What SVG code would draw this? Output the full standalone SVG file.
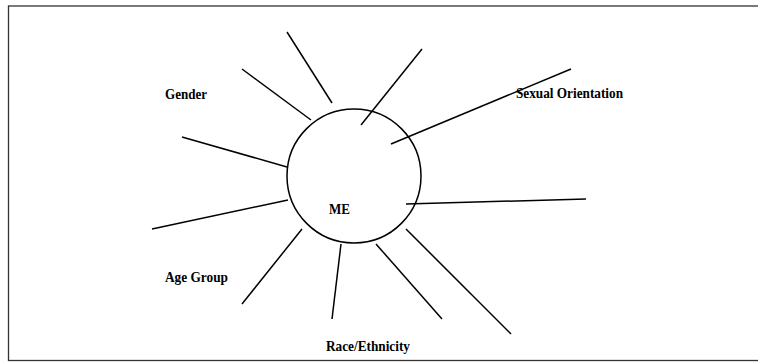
<svg xmlns="http://www.w3.org/2000/svg" width="758" height="363" viewBox="0 0 758 363">
<style>
.lbl{font-family:"Liberation Serif","Times New Roman",serif;font-weight:bold;font-size:14.5px;fill:#000}
.ray{stroke:#000;stroke-width:1.5;fill:none;stroke-linecap:butt}
</style>
<rect x="0" y="0" width="758" height="363" fill="#fff"/>
<rect x="8.5" y="6" width="760" height="354.5" fill="none" stroke="#333" stroke-width="1.3"/>
<g id="me">
<circle cx="354" cy="176" r="67" fill="none" stroke="#000" stroke-width="1.5"/>
<text class="lbl" x="329" y="213.5" textLength="21" lengthAdjust="spacingAndGlyphs">ME</text>
</g>
<g id="connectors">
<line class="ray" x1="287" y1="32" x2="332" y2="103"/>
<line class="ray" x1="242" y1="69" x2="311" y2="120"/>
<line class="ray" x1="182" y1="137" x2="287" y2="167"/>
<line class="ray" x1="152" y1="229" x2="288" y2="200"/>
<line class="ray" x1="242" y1="304" x2="302" y2="229"/>
<line class="ray" x1="332" y1="319" x2="341" y2="244"/>
<line class="ray" x1="442" y1="319" x2="376" y2="244"/>
<line class="ray" x1="511" y1="334" x2="406" y2="229"/>
<line class="ray" x1="406" y1="204" x2="586" y2="199"/>
<line class="ray" x1="391" y1="144" x2="571" y2="69"/>
<line class="ray" x1="361" y1="125" x2="422" y2="49"/>
</g>
<g id="gender"><text class="lbl" x="165" y="98.5" textLength="42" lengthAdjust="spacingAndGlyphs">Gender</text></g>
<g id="sexual-orientation"><text class="lbl" x="516" y="98" textLength="107" lengthAdjust="spacingAndGlyphs">Sexual Orientation</text></g>
<g id="age-group"><text class="lbl" x="165" y="282" textLength="63" lengthAdjust="spacingAndGlyphs">Age Group</text></g>
<g id="race-ethnicity"><text class="lbl" x="326" y="350.5" textLength="84" lengthAdjust="spacingAndGlyphs">Race/Ethnicity</text></g>
</svg>
